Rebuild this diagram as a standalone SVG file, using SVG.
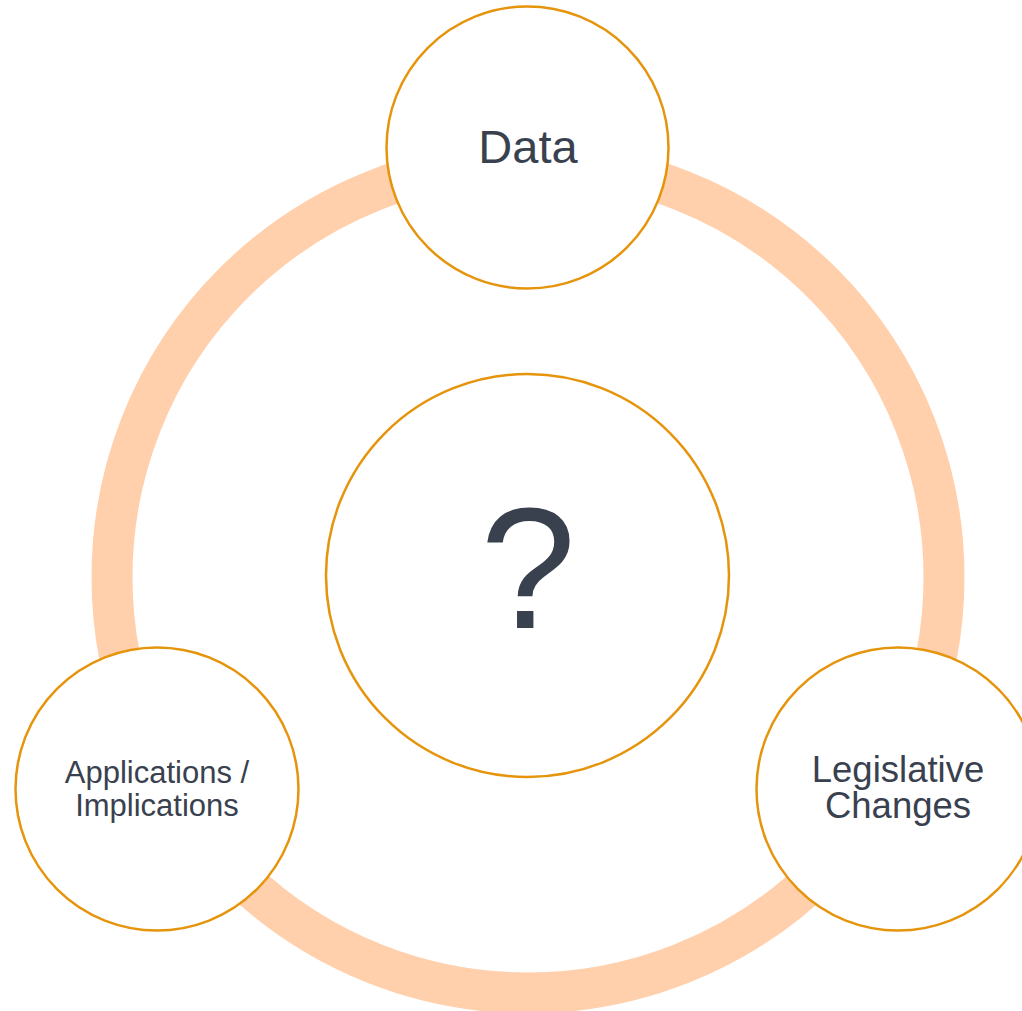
<svg xmlns="http://www.w3.org/2000/svg" width="1022" height="1011" viewBox="0 0 1022 1011">
<style>
.ring{fill:none;stroke:#FFD0AB;stroke-width:41}
.node{fill:#FFFFFF;stroke:#E5940C;stroke-width:2.5}
.lbl{font-family:"Liberation Sans",Arial,sans-serif;fill:#39414F;text-anchor:middle}
</style>
<rect width="1022" height="1011" fill="#FFFFFF"/>
<g id="connectors">
<circle class="ring" cx="528" cy="577" r="416"/>
</g>
<g id="node-data">
<circle class="node" cx="527.5" cy="147.5" r="141"/>
<text class="lbl" x="528" y="163" font-size="47">Data</text>
</g>
<g id="node-center">
<circle class="node" cx="527.5" cy="575.5" r="201.5"/>
<text class="lbl" x="528" y="628" font-size="172">?</text>
</g>
<g id="node-applications">
<circle class="node" cx="157" cy="789" r="141.5"/>
<text class="lbl" font-size="31"><tspan x="157" y="783">Applications /</tspan><tspan x="157" y="816">Implications</tspan></text>
</g>
<g id="node-legislative">
<circle class="node" cx="898" cy="789" r="141.5"/>
<text class="lbl" font-size="36.5"><tspan x="898" y="782">Legislative</tspan><tspan x="898" y="818">Changes</tspan></text>
</g>
</svg>
